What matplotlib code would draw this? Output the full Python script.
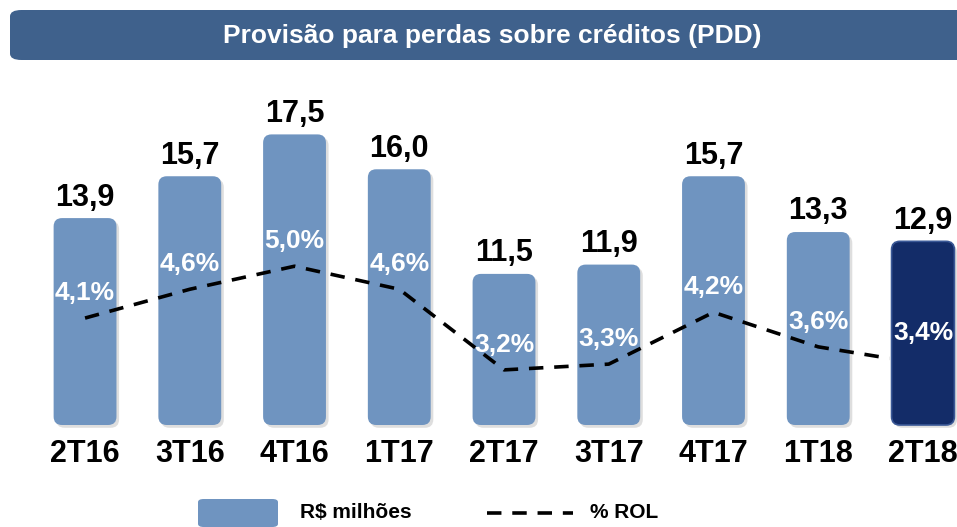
import matplotlib
matplotlib.use("Agg")
from matplotlib import pyplot as plt
from matplotlib.patches import FancyBboxPatch
from matplotlib.lines import Line2D

plt.rcParams['font.family'] = ['Liberation Sans', 'DejaVu Sans']

# data
quarters = ['2T16', '3T16', '4T16', '1T17', '2T17', '3T17', '4T17', '1T18', '2T18']
pdd = [13.9, 15.7, 17.5, 16.0, 11.5, 11.9, 15.7, 13.3, 12.9]
rol = [4.1, 4.6, 5.0, 4.6, 3.2, 3.3, 4.2, 3.6, 3.4]
pdd_labels = ['13,9', '15,7', '17,5', '16,0', '11,5', '11,9', '15,7', '13,3', '12,9']
rol_labels = ['4,1%', '4,6%', '5,0%', '4,6%', '3,2%', '3,3%', '4,2%', '3,6%', '3,4%']

W, H = 957, 527
fig = plt.figure(figsize=(W / 100, H / 100), dpi=100)

# title bar
fig.patches.append(FancyBboxPatch((10 / W, (H - 60) / H), 960 / W, 50 / H,
                                  boxstyle="round,pad=0,rounding_size=0.012",
                                  transform=fig.transFigure, fc='#3F618C', ec='none'))
fig.text(492 / W, (H - 36) / H, 'Provisão para perdas sobre créditos (PDD)',
         color='white', fontsize=19, fontweight='bold', ha='center', va='center')

# axes placed so bars land where they are in the reference
base = 5.0
ax = fig.add_axes([22.2 / W, (H - 425) / H, 934.3 / W, 335 / H])
ax.set_xlim(-0.6, 8.32)
ax.set_ylim(base, 19.41)
ax2 = ax.twinx()
ax2.set_ylim(2.243, 8.06)

x = list(range(len(quarters)))
bars = ax.bar(x, [v - base for v in pdd], bottom=base, width=0.6, color='#6F94C0')

# swap plain bars for rounded ones
px_x = 934.3 / (8.32 + 0.6)
px_y = 335 / (19.41 - base)
aspect = px_x / px_y
for i, b in enumerate(bars):
    b.set_visible(False)
    last = i == len(bars) - 1
    fc = '#132C68' if last else '#6F94C0'
    ec = '#3A5896' if last else 'none'
    # soft shadow
    ax.add_patch(FancyBboxPatch((b.get_x() + 0.025, b.get_y() - 0.12), b.get_width(), b.get_height(),
                                boxstyle="round,pad=0,rounding_size=0.08",
                                mutation_aspect=aspect, fc='#BFBFBF', ec='none', alpha=0.5,
                                zorder=1, clip_on=False))
    ax.add_patch(FancyBboxPatch((b.get_x(), b.get_y()), b.get_width(), b.get_height(),
                                boxstyle="round,pad=0,rounding_size=0.08",
                                mutation_aspect=aspect, fc=fc, ec=ec, lw=1.2,
                                zorder=5 if last else 2, clip_on=False))
    ax.annotate(pdd_labels[i], (x[i], pdd[i]), xytext=(0, 4), textcoords='offset points',
                ha='center', va='bottom', fontsize=22, fontweight='bold', color='black')

ax.set_zorder(1)
ax2.set_zorder(2)
ax2.patch.set_visible(False)
ax2.plot(x[:-1] + [x[-1] - 0.32], rol, color='black', lw=2.6,
         linestyle=(0, (4, 3)), zorder=3)
for i in range(len(quarters)):
    ax2.annotate(rol_labels[i], (x[i], rol[i]), xytext=(0, 18), textcoords='offset points',
                 ha='center', va='center', fontsize=19, fontweight='bold', color='white',
                 zorder=6)

ax.set_xticks(x)
ax.set_xticklabels(quarters, fontsize=22, fontweight='bold')
ax.tick_params(axis='x', length=0, pad=10)
for a in (ax, ax2):
    a.set_yticks([])
    for s in a.spines.values():
        s.set_visible(False)

# legend
fig.patches.append(FancyBboxPatch((198 / W, 0), 80 / W, 28 / H,
                                  boxstyle="round,pad=0,rounding_size=0.006",
                                  transform=fig.transFigure, fc='#6F94C0', ec='none'))
fig.text(300 / W, 14 / H, 'R$ milhões', fontsize=15, fontweight='bold', va='center', ha='left')
fig.lines.append(Line2D([487 / W, 573 / W], [14 / H, 14 / H], transform=fig.transFigure,
                        color='black', lw=2.6, linestyle=(0, (4, 3))))
fig.text(590 / W, 14 / H, '% ROL', fontsize=15, fontweight='bold', va='center', ha='left')

fig.savefig('out.png', dpi=100)
